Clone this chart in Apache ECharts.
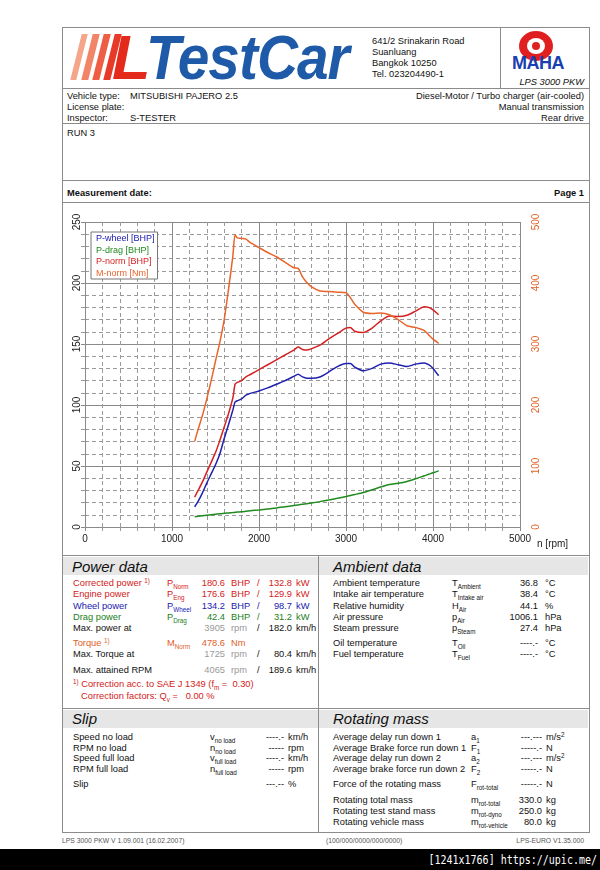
<!DOCTYPE html>
<html><head><meta charset="utf-8">
<script src="https://cdn.jsdelivr.net/npm/echarts@6/dist/echarts.min.js"></script>
<style>
body{margin:0;width:600px;height:870px;position:relative;background:#fff;font-family:'Liberation Sans',Arial,sans-serif;overflow:hidden}
.t{position:absolute;font-size:9.3px;line-height:12px;white-space:nowrap;color:#111}
.hl{position:absolute;height:1px;background:#8c8c8c}
.vl{position:absolute;width:1px;background:#8c8c8c}
.band{position:absolute;background:#e6e6e6;height:18px;left:63px;width:525px}
.h{position:absolute;font-style:italic;font-size:15px;line-height:16px;color:#111}
.s{font-size:6.3px;position:relative;top:3px}
.sp{font-size:6.3px;position:relative;top:-3px}
.red{color:#d42020}.blu{color:#2020b0}.grn{color:#208020}.org{color:#e0602a}.gry{color:#999}
.stripe{position:absolute;top:34px;height:46px;transform:skewX(-14deg)}
.ft{position:absolute;top:836px;font-size:6.8px;line-height:9px;color:#555;white-space:nowrap}
</style></head><body>
<!-- outer frame -->
<div style="position:absolute;left:62px;top:27px;width:526px;height:804px;border:1px solid #8c8c8c"></div>
<div class="hl" style="left:62px;width:527px;top:88px"></div>
<div class="hl" style="left:62px;width:527px;top:123px"></div>
<div class="hl" style="left:62px;width:527px;top:180px"></div>
<div class="hl" style="left:62px;width:527px;top:202px"></div>
<div class="hl" style="left:62px;width:527px;top:555px"></div>
<div class="hl" style="left:62px;width:527px;top:708px"></div>
<div class="vl" style="left:500px;top:27px;height:61px"></div>
<!-- logo -->
<div class="stripe" style="left:76px;width:6px;background:#f5a68a"></div>
<div class="stripe" style="left:87px;width:7px;background:#f28468"></div>
<div class="stripe" style="left:98px;width:7px;background:#ee5e44"></div>
<div class="stripe" style="left:109px;width:7px;background:#e83a28"></div>
<div style="position:absolute;left:112px;top:26px;font:italic bold 63px/63px 'Liberation Sans',Arial;color:#e42a1c">L</div>
<div style="position:absolute;left:146px;top:26px;font:italic bold 63px/63px 'Liberation Sans',Arial;color:#1e5aa8;transform:scaleX(0.9);transform-origin:left;letter-spacing:-1px">TestCar</div>
<div class="t" style="left:372px;top:35px">641/2 Srinakarin Road</div>
<div class="t" style="left:372px;top:46px">Suanluang</div>
<div class="t" style="left:372px;top:57px">Bangkok 10250</div>
<div class="t" style="left:372px;top:68px">Tel. 023204490-1</div>
<div style="position:absolute;left:519px;top:31px;width:34px;height:30px;border-radius:50%;background:#e02020"></div>
<div style="position:absolute;left:527px;top:38px;width:18px;height:16px;border-radius:50%;background:#fff"></div>
<div style="position:absolute;left:532px;top:42px;width:8px;height:8px;border-radius:50%;background:#e02020"></div>
<div style="position:absolute;left:512px;top:54px;width:50px;text-align:center;font:bold 18px/18px 'Liberation Sans',Arial;color:#1a3fb0;letter-spacing:-0.5px">MAHA</div>
<div class="t" style="right:16px;top:76px;font-style:italic">LPS 3000 PKW</div>
<!-- vehicle -->
<div class="t" style="left:67px;top:90px">Vehicle type:</div>
<div class="t" style="left:130px;top:90px">MITSUBISHI PAJERO 2.5</div>
<div class="t" style="left:67px;top:101px">License plate:</div>
<div class="t" style="left:67px;top:112px">Inspector:</div>
<div class="t" style="left:130px;top:112px">S-TESTER</div>
<div class="t" style="right:16px;top:90px">Diesel-Motor / Turbo charger (air-cooled)</div>
<div class="t" style="right:16px;top:101px">Manual transmission</div>
<div class="t" style="right:16px;top:112px">Rear drive</div>
<div class="t" style="left:67px;top:127px">RUN 3</div>
<div class="t" style="left:67px;top:187px;font-weight:bold">Measurement date:</div>
<div class="t" style="right:16px;top:187px;font-weight:bold">Page 1</div>
<!-- chart -->
<div id="chart" style="position:absolute;left:63px;top:203px;width:525px;height:352px"></div>
<!-- power / ambient -->
<div class="band" style="top:557px"></div>
<div class="band" style="top:710px"></div>
<div class="vl" style="left:318px;top:555px;height:277px"></div>
<div class="h" style="left:72px;top:559px">Power data</div>
<div class="h" style="left:333px;top:559px">Ambient data</div>
<div class="h" style="left:72px;top:711px">Slip</div>
<div class="h" style="left:333px;top:711px">Rotating mass</div>

<div class="t red" style="left:73px;top:577px">Corrected power <span class="sp">1)</span></div>
<div class="t red" style="left:167px;top:577px">P<span class="s">Norm</span></div>
<div class="t red" style="right:375px;top:577px">180.6</div><div class="t red" style="left:231px;top:577px">BHP</div><div class="t red" style="left:257px;top:577px">/</div><div class="t red" style="right:308px;top:577px">132.8</div><div class="t red" style="left:296px;top:577px">kW</div>

<div class="t red" style="left:73px;top:588px">Engine power</div>
<div class="t red" style="left:167px;top:588px">P<span class="s">Eng</span></div>
<div class="t red" style="right:375px;top:588px">176.6</div><div class="t red" style="left:231px;top:588px">BHP</div><div class="t red" style="left:257px;top:588px">/</div><div class="t red" style="right:308px;top:588px">129.9</div><div class="t red" style="left:296px;top:588px">kW</div>

<div class="t blu" style="left:73px;top:600px">Wheel power</div>
<div class="t blu" style="left:167px;top:600px">P<span class="s">Wheel</span></div>
<div class="t blu" style="right:375px;top:600px">134.2</div><div class="t blu" style="left:231px;top:600px">BHP</div><div class="t blu" style="left:257px;top:600px">/</div><div class="t blu" style="right:308px;top:600px">98.7</div><div class="t blu" style="left:296px;top:600px">kW</div>

<div class="t grn" style="left:73px;top:611px">Drag power</div>
<div class="t grn" style="left:167px;top:611px">P<span class="s">Drag</span></div>
<div class="t grn" style="right:375px;top:611px">42.4</div><div class="t grn" style="left:231px;top:611px">BHP</div><div class="t grn" style="left:257px;top:611px">/</div><div class="t grn" style="right:308px;top:611px">31.2</div><div class="t grn" style="left:296px;top:611px">kW</div>

<div class="t" style="left:73px;top:622px">Max. power at</div>
<div class="t gry" style="right:375px;top:622px">3905</div><div class="t gry" style="left:231px;top:622px">rpm</div><div class="t" style="left:257px;top:622px">/</div><div class="t" style="right:308px;top:622px">182.0</div><div class="t" style="left:296px;top:622px">km/h</div>

<div class="t org" style="left:73px;top:637px">Torque <span class="sp">1)</span></div>
<div class="t org" style="left:167px;top:637px">M<span class="s">Norm</span></div>
<div class="t org" style="right:375px;top:637px">478.6</div><div class="t org" style="left:231px;top:637px">Nm</div>

<div class="t" style="left:73px;top:648px">Max. Torque at</div>
<div class="t gry" style="right:375px;top:648px">1725</div><div class="t gry" style="left:231px;top:648px">rpm</div><div class="t" style="left:257px;top:648px">/</div><div class="t" style="right:308px;top:648px">80.4</div><div class="t" style="left:296px;top:648px">km/h</div>

<div class="t" style="left:73px;top:664px">Max. attained RPM</div>
<div class="t gry" style="right:375px;top:664px">4065</div><div class="t gry" style="left:231px;top:664px">rpm</div><div class="t" style="left:257px;top:664px">/</div><div class="t" style="right:308px;top:664px">189.6</div><div class="t" style="left:296px;top:664px">km/h</div>

<div class="t red" style="left:73px;top:678px"><span class="sp">1)</span> Correction acc. to SAE J 1349 (f<span class="s">m</span> =&nbsp; 0.30)</div>
<div class="t red" style="left:81px;top:690px">Correction factors: Q<span class="s">v</span> =&nbsp;&nbsp; 0.00 %</div>

<div class="t" style="left:333px;top:577px">Ambient temperature</div><div class="t" style="left:452px;top:577px">T<span class="s">Ambient</span></div><div class="t" style="right:62px;top:577px">36.8</div><div class="t" style="left:545px;top:577px">°C</div>
<div class="t" style="left:333px;top:588px">Intake air temperature</div><div class="t" style="left:452px;top:588px">T<span class="s">Intake air</span></div><div class="t" style="right:62px;top:588px">38.4</div><div class="t" style="left:545px;top:588px">°C</div>
<div class="t" style="left:333px;top:600px">Relative humidity</div><div class="t" style="left:452px;top:600px">H<span class="s">Air</span></div><div class="t" style="right:62px;top:600px">44.1</div><div class="t" style="left:545px;top:600px">%</div>
<div class="t" style="left:333px;top:611px">Air pressure</div><div class="t" style="left:452px;top:611px">p<span class="s">Air</span></div><div class="t" style="right:62px;top:611px">1006.1</div><div class="t" style="left:545px;top:611px">hPa</div>
<div class="t" style="left:333px;top:622px">Steam pressure</div><div class="t" style="left:452px;top:622px">p<span class="s">Steam</span></div><div class="t" style="right:62px;top:622px">27.4</div><div class="t" style="left:545px;top:622px">hPa</div>
<div class="t" style="left:333px;top:637px">Oil temperature</div><div class="t" style="left:452px;top:637px">T<span class="s">Oil</span></div><div class="t" style="right:62px;top:637px">----.-</div><div class="t" style="left:545px;top:637px">°C</div>
<div class="t" style="left:333px;top:648px">Fuel temperature</div><div class="t" style="left:452px;top:648px">T<span class="s">Fuel</span></div><div class="t" style="right:62px;top:648px">----.-</div><div class="t" style="left:545px;top:648px">°C</div>

<!-- slip -->
<div class="t" style="left:73px;top:731px">Speed no load</div><div class="t" style="left:210px;top:731px">v<span class="s">no load</span></div><div class="t" style="right:316px;top:731px">----.-</div><div class="t" style="left:288px;top:731px">km/h</div>
<div class="t" style="left:73px;top:742px">RPM no load</div><div class="t" style="left:210px;top:742px">n<span class="s">no load</span></div><div class="t" style="right:316px;top:742px">-----</div><div class="t" style="left:288px;top:742px">rpm</div>
<div class="t" style="left:73px;top:752px">Speed full load</div><div class="t" style="left:210px;top:752px">v<span class="s">full load</span></div><div class="t" style="right:316px;top:752px">----.-</div><div class="t" style="left:288px;top:752px">km/h</div>
<div class="t" style="left:73px;top:763px">RPM full load</div><div class="t" style="left:210px;top:763px">n<span class="s">full load</span></div><div class="t" style="right:316px;top:763px">-----</div><div class="t" style="left:288px;top:763px">rpm</div>
<div class="t" style="left:73px;top:778px">Slip</div><div class="t" style="right:316px;top:778px">---.--</div><div class="t" style="left:288px;top:778px">%</div>

<div class="t" style="left:333px;top:731px">Average delay run down 1</div><div class="t" style="left:471px;top:731px">a<span class="s">1</span></div><div class="t" style="right:58px;top:731px">---.---</div><div class="t" style="left:546px;top:731px">m/s<span class="sp">2</span></div>
<div class="t" style="left:333px;top:742px">Average Brake force run down 1</div><div class="t" style="left:471px;top:742px">F<span class="s">1</span></div><div class="t" style="right:58px;top:742px">-----.-</div><div class="t" style="left:546px;top:742px">N</div>
<div class="t" style="left:333px;top:752px">Average delay run down 2</div><div class="t" style="left:471px;top:752px">a<span class="s">2</span></div><div class="t" style="right:58px;top:752px">---.---</div><div class="t" style="left:546px;top:752px">m/s<span class="sp">2</span></div>
<div class="t" style="left:333px;top:763px">Average brake force run down 2</div><div class="t" style="left:471px;top:763px">F<span class="s">2</span></div><div class="t" style="right:58px;top:763px">-----.-</div><div class="t" style="left:546px;top:763px">N</div>
<div class="t" style="left:333px;top:778px">Force of the rotating mass</div><div class="t" style="left:471px;top:778px">F<span class="s">rot-total</span></div><div class="t" style="right:58px;top:778px">-----.-</div><div class="t" style="left:546px;top:778px">N</div>
<div class="t" style="left:333px;top:794px">Rotating total mass</div><div class="t" style="left:471px;top:794px">m<span class="s">rot-total</span></div><div class="t" style="right:58px;top:794px">330.0</div><div class="t" style="left:546px;top:794px">kg</div>
<div class="t" style="left:333px;top:805px">Rotating test stand mass</div><div class="t" style="left:471px;top:805px">m<span class="s">rot-dyno</span></div><div class="t" style="right:58px;top:805px">250.0</div><div class="t" style="left:546px;top:805px">kg</div>
<div class="t" style="left:333px;top:816px">Rotating vehicle mass</div><div class="t" style="left:471px;top:816px">m<span class="s">rot-vehicle</span></div><div class="t" style="right:58px;top:816px">80.0</div><div class="t" style="left:546px;top:816px">kg</div>

<!-- footer -->
<div class="ft" style="left:62px">LPS 3000 PKW V 1.09.001 (16.02.2007)</div>
<div class="ft" style="left:326px">(100/000/0000/000/0000)</div>
<div class="ft" style="right:16px">LPS-EURO V1.35.000</div>
<div style="position:absolute;left:0;top:849px;width:600px;height:21px;background:#000"></div>
<div class="t" style="right:3px;top:853px;font:10px/13px 'DejaVu Sans Mono',monospace;color:#fff;transform:scaleY(1.15)">[1241x1766] https://upic.me/</div>

<script>
// ---- data ----
const rpm    = [1260,1300,1350,1400,1450,1500,1550,1600,1650,1700,1725,1750,1800,1850,1900,2000,2100,2200,2300,2400,2450,2500,2550,2600,2700,2800,2900,3000,3050,3100,3200,3300,3400,3500,3600,3700,3800,3900,3950,4000,4065];
const pWheel = [16.5,21,28,36,43.5,51,60,72.5,84,96,102.5,103.5,105,108,109.5,111.5,114,117,120,123.5,125.3,123,122,122,123,127,131.5,134,134,131,128,130,133.5,134.5,133,131.5,133.5,134.5,133,130,124];
const pDrag  = [8.5,8.8,9.2,9.6,10,10.4,10.8,11.2,11.5,11.8,12,12.2,12.5,12.9,13.3,14,14.8,15.6,16.6,17.6,18.1,18.6,19.1,19.6,20.8,22.1,23.5,25,25.8,26.6,28.3,30.5,32.8,34.8,35.8,37.3,39.5,42,43.2,44.5,46];
const pNorm  = [24.5,30,37,45,53,61,71,82,93,106,117,118.5,120,123,125,129,133,137,141,145,147.5,145.5,145,146,149,154,158.5,163,163.5,160.5,159.5,163,169,173,172.5,173.5,177,180.6,180,178,174];
const mNorm  = [140,160,183,210,240,272,303,340,390,445,479,474,473,472,466,458,450,443,434,425,424,410,401,394,387,386,385,384,376,365,352,350,351,348,340,330,327,322,315,308,301];
const seriesNames = ['P-wheel [BHP]','P-drag [BHP]','P-norm [BHP]','M-norm [Nm]'];
const seriesColors = ['#2020b0','#208a20','#d42020','#e8642a'];
const xRange = [0,5000,1000];      // rpm axis min, max, step
const yRange = [0,250,50];         // BHP axis
const y2Range = [0,500,100];       // Nm axis

const pair = v => rpm.map((r,i)=>[r,v[i]]);
const chart = echarts.init(document.getElementById('chart'), null, {renderer:'canvas'});
const gridLine = {show:true, lineStyle:{color:'#8a8a8a', width:1, type:'solid'}};
const minorLine = {show:true, lineStyle:{color:'#9a9a9a', width:1, type:[4,3]}};
const lblFont = {fontFamily:'Liberation Sans', fontSize:10, color:'#222', formatter:v=>String(v)};
chart.setOption({
  animation:false,
  textStyle:{fontFamily:'Liberation Sans'},
  grid:{left:22, top:19, width:435, height:305, containLabel:false},
  legend:{
    data: seriesNames.map((n,i)=>({name:n, textStyle:{color:seriesColors[i]}})),
    orient:'vertical', left:28, top:29, icon:'none', itemWidth:0, itemHeight:10, itemGap:2,
    padding:[2,3,1,0], backgroundColor:'#fff', borderColor:'#777', borderWidth:1,
    textStyle:{fontSize:9, fontFamily:'Liberation Sans'}
  },
  xAxis:{type:'value', min:xRange[0], max:xRange[1], interval:xRange[2],
    name:'n [rpm]', nameLocation:'end', nameGap:16,
    nameTextStyle:{fontSize:10, color:'#222', verticalAlign:'top', padding:[12,0,0,0]},
    axisLine:{show:false}, axisTick:{show:true, length:4, lineStyle:{color:'#8a8a8a'}},
    minorTick:{show:true, splitNumber:5, length:4, lineStyle:{color:'#9a9a9a'}},
    splitLine:gridLine, minorSplitLine:minorLine,
    axisLabel:Object.assign({margin:7}, lblFont)},
  yAxis:[
    {type:'value', min:yRange[0], max:yRange[1], interval:yRange[2],
     axisLine:{show:false}, axisTick:{show:true, length:4, lineStyle:{color:'#8a8a8a'}},
     minorTick:{show:true, splitNumber:5, length:4, lineStyle:{color:'#9a9a9a'}},
     splitLine:gridLine, minorSplitLine:minorLine,
     axisLabel:Object.assign({rotate:90, margin:3}, lblFont)},
    {type:'value', min:y2Range[0], max:y2Range[1], interval:y2Range[2], position:'right',
     axisLine:{show:false}, axisTick:{show:false}, splitLine:{show:false},
     axisLabel:Object.assign({}, lblFont, {rotate:90, margin:11, color:'#e0642a'})}
  ],
  series:[
    {name:seriesNames[0], type:'line', data:pair(pWheel), yAxisIndex:0},
    {name:seriesNames[1], type:'line', data:pair(pDrag), yAxisIndex:0},
    {name:seriesNames[2], type:'line', data:pair(pNorm), yAxisIndex:0},
    {name:seriesNames[3], type:'line', data:pair(mNorm), yAxisIndex:1}
  ].map((s,i)=>Object.assign(s,{showSymbol:false, smooth:0.25, color:seriesColors[i], lineStyle:{width:1.5, color:seriesColors[i]}}))
});
</script>
</body></html>
